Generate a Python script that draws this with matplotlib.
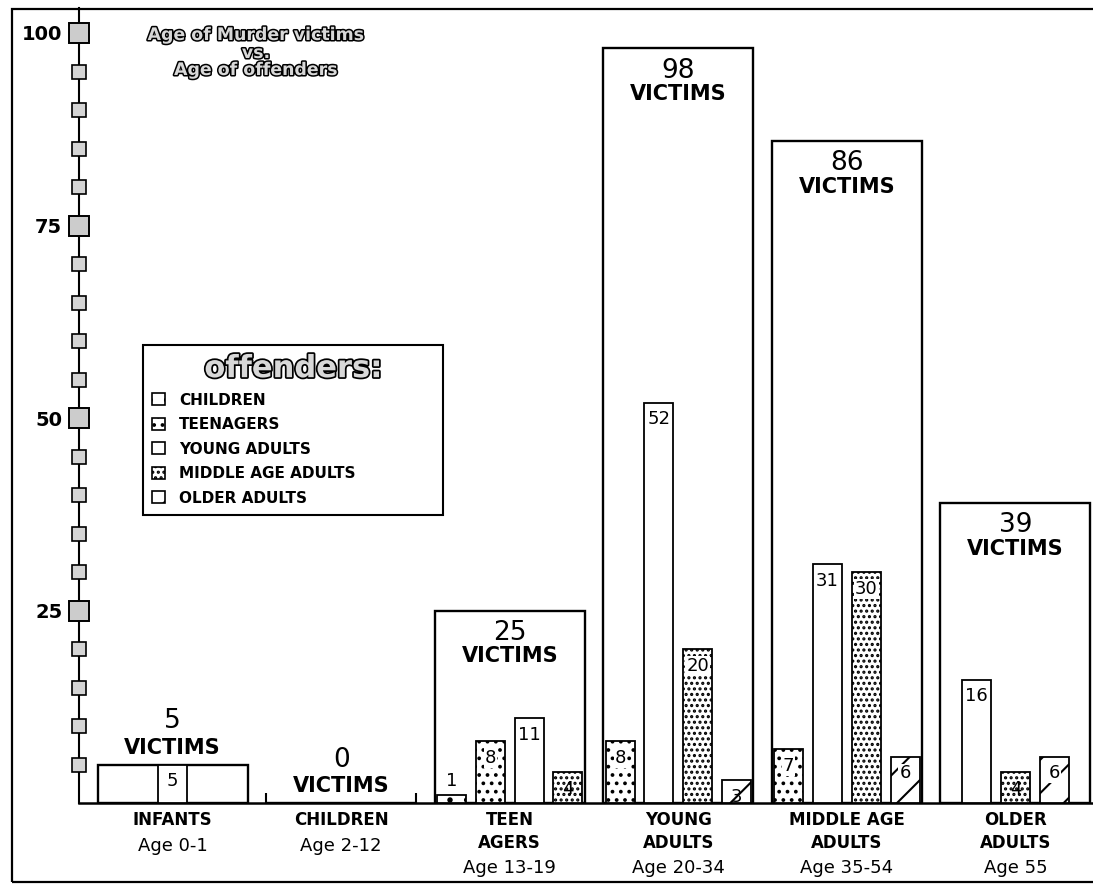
import numpy as np
import matplotlib.pyplot as plt
import matplotlib.patheffects as pe
from matplotlib.patches import Patch, Rectangle

plt.rcParams["font.family"] = "DejaVu Sans"
plt.rcParams["hatch.linewidth"] = 1.5

# victim age groups
groups = ["INFANTS", "CHILDREN", "TEEN\nAGERS", "YOUNG\nADULTS", "MIDDLE AGE\nADULTS", "OLDER\nADULTS"]
ages = ["Age 0-1", "Age 2-12", "Age 13-19", "Age 20-34", "Age 35-54", "Age 55"]
victims = [5, 0, 25, 98, 86, 39]

# offenders per victim group
offenders = ["CHILDREN", "TEENAGERS", "YOUNG ADULTS", "MIDDLE AGE ADULTS", "OLDER ADULTS"]
by_children = [0, 0, 1, 0, 0, 0]
by_teenagers = [0, 0, 8, 8, 7, 0]
by_young = [5, 0, 11, 52, 31, 16]
by_middle = [0, 0, 4, 20, 30, 4]
by_older = [0, 0, 0, 3, 6, 6]

yticks = [25, 50, 75, 100]
minor = [v for v in range(5, 100, 5) if v % 25 != 0]

series = [by_children, by_teenagers, by_young, by_middle, by_older]
hatches = [".", "..", "", "...", "/"]

W, H = 1093, 884
fig = plt.figure(figsize=(W / 100, H / 100), dpi=100)
ax = fig.add_axes([79 / W, 81 / H, (W - 79) / W, (876 - 81) / H])
ax.set_xlim(-0.555, 5.46)
ax.set_ylim(0, 795 / 7.7)

for s in ["top", "right"]:
    ax.spines[s].set_visible(False)
ax.spines["left"].set_linewidth(1.5)
ax.spines["bottom"].set_linewidth(1.8)

x = np.arange(len(groups))
box_w = 0.89
bar_w = 0.172
slot = 0.23

# total victims boxes
ax.bar(x, victims, box_w, color="white", edgecolor="black", lw=1.7, zorder=2)

for i in range(len(groups)):
    vals = [(k, s[i]) for k, s in enumerate(series) if s[i] > 0]
    n = len(vals)
    for j, (k, v) in enumerate(vals):
        xc = x[i] + (j - (n - 1) / 2) * slot
        ax.bar(xc, v, bar_w, color="white", edgecolor="black", hatch=hatches[k], lw=1.3, zorder=3)
        if v >= 3:
            bb = dict(boxstyle="square,pad=0.05", fc="white", ec="none") if v >= 5 else None
            ax.annotate(str(v), (xc, v), xytext=(0, -12), textcoords="offset points",
                        ha="center", va="center", fontsize=13, zorder=4, bbox=bb)
        else:
            ax.annotate(str(v), (xc, v), xytext=(0, 10), textcoords="offset points",
                        ha="center", va="center", fontsize=13, zorder=4)

    v = victims[i]
    if v == 0:
        ax.vlines([x[i] - box_w / 2, x[i] + box_w / 2], 0, 1.3, color="black", lw=1.5, zorder=3)
    if v >= 20:
        off_num, off_vic = -16, -33
    else:
        off_num, off_vic = 31, 12
    ax.annotate(str(v), (x[i], v), xytext=(0, off_num), textcoords="offset points",
                ha="center", va="center", fontsize=19, zorder=4)
    ax.annotate("VICTIMS", (x[i], v), xytext=(0, off_vic), textcoords="offset points",
                ha="center", va="center", fontsize=15, weight="bold", zorder=4)

    nlines = groups[i].count("\n") + 1
    ax.annotate(groups[i], (x[i], 0), xytext=(0, -6), textcoords="offset points",
                ha="center", va="top", fontsize=12, weight="bold", linespacing=1.35)
    ax.annotate(ages[i], (x[i], 0), xytext=(0, -(31 + 15.8 * (nlines - 1))), textcoords="offset points",
                ha="center", va="center", fontsize=13)

# y axis with square markers
ax.set_xticks([])
ax.set_yticks(yticks, [str(t) for t in yticks], fontsize=14, weight="bold")
ax.tick_params(axis="y", length=0, pad=12)
ax.plot([0] * len(minor), minor, "s", ms=9.5, mfc="#d4d4d4", mec="black", mew=1.2,
        transform=ax.get_yaxis_transform(), clip_on=False, zorder=5)
ax.plot([0] * len(yticks), yticks, "s", ms=14.5, mfc="#cccccc", mec="black", mew=1.4,
        transform=ax.get_yaxis_transform(), clip_on=False, zorder=5)

# title with outlined lettering
outline = [pe.withStroke(linewidth=2.2, foreground="black")]
for txt, ypx in [("Age of Murder victims", 35), ("vs.", 53), ("Age of offenders", 70)]:
    fig.text(256 / W, 1 - ypx / H, txt, ha="center", va="center", fontsize=12.5,
             weight="bold", color="#d8d8d8", path_effects=outline)

# legend
handles = [Patch(facecolor="white", edgecolor="black", hatch=h, lw=1.2) for h in hatches]
leg = ax.legend(handles, offenders, loc="upper left",
                bbox_to_anchor=(143 / W, 1 - 518 / H, 300 / W, 173 / H), bbox_transform=fig.transFigure,
                mode="expand", borderaxespad=0, title="offenders:", fancybox=False, framealpha=1,
                edgecolor="black", borderpad=0.6, handlelength=0.85, handleheight=0.85,
                handletextpad=0.9, labelspacing=0.62, prop=dict(size=11, weight="bold"),
                title_fontproperties=dict(size=22, weight="bold"))
leg.get_frame().set_linewidth(1.5)
leg.get_title().set_color("#d8d8d8")
leg.get_title().set_path_effects([pe.withStroke(linewidth=2.5, foreground="black")])

# page frame
fig.add_artist(Rectangle((12 / W, 2 / H), 1.1, (875 - 2) / H, transform=fig.transFigure,
                         fill=False, ec="black", lw=1.6))

fig.savefig("out.png", dpi=100)
